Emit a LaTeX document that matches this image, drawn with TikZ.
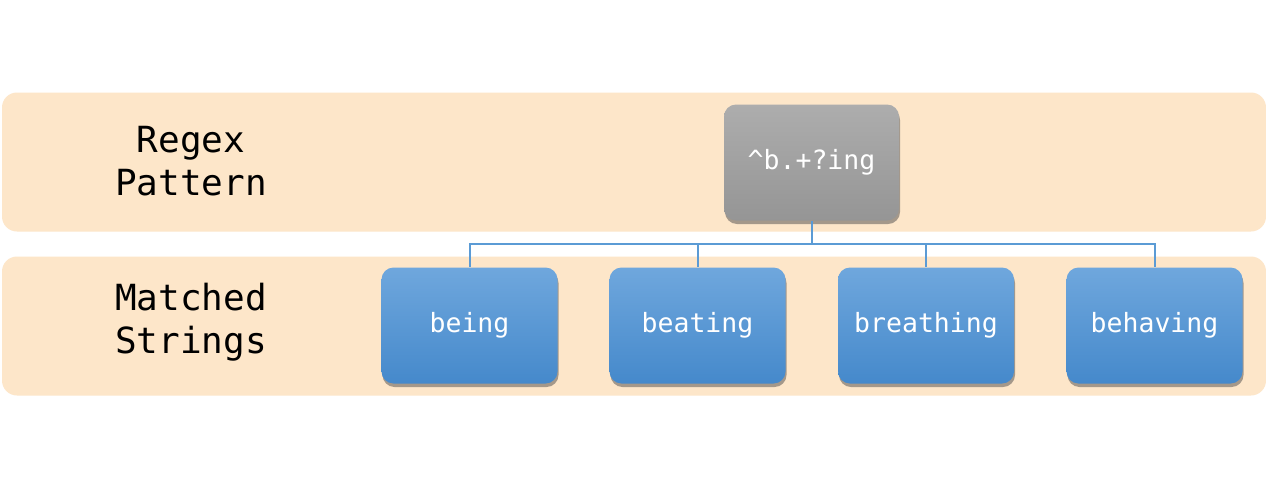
\documentclass[tikz,border=0pt]{standalone}
\usepackage{fontspec}
\newfontfamily\monofam{DejaVu Sans Mono}
\usetikzlibrary{shadows,positioning}
\definecolor{band}{HTML}{FDE6C9}
\definecolor{graytop}{HTML}{ADADAD}
\definecolor{graybot}{HTML}{959595}
\definecolor{bluetop}{HTML}{6FA7DD}
\definecolor{bluebot}{HTML}{4589CB}
\definecolor{wire}{HTML}{5B9BD5}
\tikzset{
  bandbox/.style={fill=band, rounded corners=15pt, draw=none},
  itembox/.style={rounded corners=12pt, minimum width=176pt, minimum height=116pt,
     inner sep=0pt, text=white, font=\monofam\fontsize{26.5}{30}\selectfont,
     drop shadow={opacity=0.5, shadow xshift=1pt, shadow yshift=-3.5pt, fill=black!70}},
  graybox/.style={itembox, top color=graytop, bottom color=graybot},
  bluebox/.style={itembox, top color=bluetop, bottom color=bluebot},
  rowlabel/.style={align=center, font=\monofam\fontsize{36}{43}\selectfont, text=black},
  wireline/.style={draw=wire, line width=2pt}
}
\begin{document}
\begin{tikzpicture}[x=1pt,y=-1pt]
\useasboundingbox (0,0) rectangle (1266,485);
\fill[white] (0,0) rectangle (1266,485);
\path[bandbox] (2,92.5) rectangle (1266,231.5);
\path[bandbox] (2,256.5) rectangle (1266,395.5);
\node[rowlabel] (lab1) at (191,161.5) {Regex\\Pattern};
\node[rowlabel] (lab2) at (191,322.5) {Matched\\Strings};
\node[graybox, minimum width=175pt] (g) at (811.5,162.5) {\^{}b.+?ing};
\node[bluebox] (b1) at (469.5,325.5) {being};
\node[bluebox] (b2) at (697.5,325.5) {beating};
\node[bluebox] (b3) at (926,325.5) {breathing};
\node[bluebox] (b4) at (1154.5,325.5) {behaving};
\coordinate (bus) at (811.5,244);
\draw[wireline] (g.south) -- (bus) -| (b1.north);
\draw[wireline] (bus) -| (b2.north);
\draw[wireline] (bus) -| (b3.north);
\draw[wireline] (bus) -| (b4.north);
\end{tikzpicture}
\end{document}
